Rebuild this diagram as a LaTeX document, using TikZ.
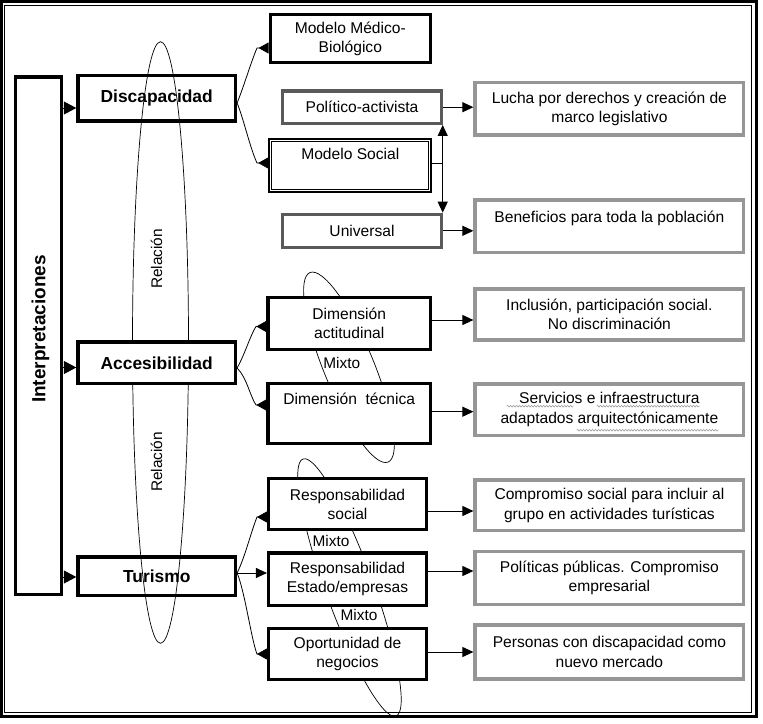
\documentclass[tikz,border=0pt]{standalone}
\usepackage{fontspec}
\setmainfont{Liberation Sans}
\usepackage{graphicx}
\usetikzlibrary{arrows.meta,calc,decorations.pathmorphing}
\definecolor{boxdark}{RGB}{90,90,90}
\definecolor{boxlight}{RGB}{150,150,150}
\definecolor{squigcol}{RGB}{160,160,160}
\begin{document}
\begin{tikzpicture}[x=1pt,y=-1pt,
  every node/.style={inner sep=0pt, align=center, font=\fontsize{15.6}{19.5}\selectfont},
  thickbox/.style={draw, line width=3.5pt, fill=white, rectangle},
  darkbox/.style={draw=boxdark, line width=3.2pt, fill=white, rectangle},
  lightbox/.style={draw=boxlight, line width=3.2pt, fill=white, rectangle},
  boldtxt/.style={font=\fontsize{17.4}{20}\selectfont\bfseries},
  lbl/.style={font=\fontsize{15.4}{18}\selectfont},
  arr/.style={line width=1pt, -{Triangle[length=11pt,width=10pt]}},
  headarr/.style={line width=1pt, -{Triangle[length=12.5pt,width=13pt]}},
  curv/.style={line width=0.8pt, -{Triangle[reversed,length=10pt,width=11pt]}},
  loopline/.style={line width=0.7pt},
  squigline/.style={draw=squigcol, line width=0.6pt, decorate, decoration={snake, amplitude=0.9pt, segment length=3pt}}]
\useasboundingbox (0,0) rectangle (763,723);

% loops
\draw[loopline] (160.5,342.5) ellipse [x radius=28pt, y radius=300.8pt];
\draw[loopline, rotate around={22.4:(349,367.3)}] (349,367.3) ellipse [x radius=25pt, y radius=102.5pt];
\draw[loopline, rotate around={19.9:(349.5,587.5)}] (349.5,587.5) ellipse [x radius=24pt, y radius=136.7pt];

% left column
\node[thickbox, minimum width=46.4pt, minimum height=517.7pt] (interp) at (38.5,335.8) {};
\node[font=\fontsize{19}{22}\selectfont\bfseries, rotate=90] (interplbl) at (40.5,329) {Interpretaciones};
\node[thickbox, fill=none, boldtxt, minimum width=157.3pt, minimum height=45.7pt] (disc) at (156.7,98.2) {Discapacidad};
\node[thickbox, boldtxt, minimum width=157.3pt, minimum height=41.7pt] (acc) at (156.7,362.8) {Accesibilidad};
\node[thickbox, fill=none, boldtxt, minimum width=157.3pt, minimum height=38.3pt] (tur) at (156.7,576.2) {Turismo};
\node[lbl, rotate=90] (rel1) at (156.5,259) {Relación};
\node[lbl, rotate=90] (rel2) at (156.5,462) {Relación};

% Discapacidad group
\node[thickbox, minimum width=160pt, minimum height=48pt] (mmb) at (350.3,38.7) {Modelo Médico-\\Biológico};
\node[darkbox, minimum width=159.4pt, minimum height=32.3pt] (pol) at (362,107.2) {Político-activista};
\node[draw, line width=2.2pt, fill=white, minimum width=162pt, minimum height=53.6pt] (soc) at (350.3,165.5) {Modelo Social\\[3pt]\mbox{}};
\draw[line width=0.9pt] ($(soc.center)+(-78.6,-24.4)$) rectangle ($(soc.center)+(78.6,24.4)$);
\node[darkbox, minimum width=159.4pt, minimum height=33pt] (univ) at (362,230.8) {Universal};
\node[lightbox, minimum width=268.8pt, minimum height=52.7pt] (lucha) at (609.4,108.7) {Lucha por derechos y creación de\\marco legislativo};
\node[lightbox, minimum width=268.8pt, minimum height=52.3pt] (benef) at (609.4,226.2) {Beneficios para toda la población\\\mbox{}};

% Accesibilidad group
\node[thickbox, minimum width=162.3pt, minimum height=51.6pt] (dact) at (349.2,323.5) {Dimensión\\actitudinal};
\node[thickbox, minimum width=162.3pt, minimum height=60pt] (dtec) at (349.2,413.7) {Dimensión\ \ técnica\\[11pt]\mbox{}};
\node[lightbox, minimum width=268.8pt, minimum height=51pt] (incl) at (609.4,314.5) {Inclusión, participación social.\\No discriminación};
\node[lightbox, minimum width=268.8pt, minimum height=51.3pt] (serv) at (609.4,409.7) {Servicios e infraestructura\\adaptados arquitectónicamente};
\draw[squigline] ($(serv.center)+(-102.7,-3.5)$) -- ++(66.6,0);
\draw[squigline] ($(serv.center)+(-12.7,-3.5)$) -- ++(102.6,0);
\draw[squigline] ($(serv.center)+(-32.7,20.5)$) -- ++(141.6,0);

% Turismo group
\node[thickbox, minimum width=157.6pt, minimum height=51pt] (rsoc) at (347.5,504.2) {Responsabilidad\\social};
\node[thickbox, minimum width=157.6pt, minimum height=52.3pt] (rest) at (347.5,579.2) {Responsabilidad\\Estado/empresas};
\node[thickbox, minimum width=157.6pt, minimum height=51pt] (opor) at (347.5,654.2) {Oportunidad de\\negocios};
\node[lightbox, minimum width=268.8pt, minimum height=50.7pt] (comp) at (609.4,505.3) {Compromiso social para incluir al\\grupo en actividades turísticas};
\node[lightbox, minimum width=268.8pt, minimum height=52.6pt] (polit) at (609.4,578) {Políticas públicas. Compromiso\\empresarial};
\node[lightbox, minimum width=268.8pt, minimum height=54pt] (pers) at (609.4,652) {Personas con discapacidad como\\nuevo mercado};

% Mixto labels
\node[lbl] (mx1) at (341.7,363) {Mixto};
\node[lbl] (mx2) at (331,540.5) {Mixto};
\node[lbl] (mx3) at (359,615) {Mixto};

% arrows from Interpretaciones
\coordinate (ya) at (0,108);
\coordinate (yb) at (0,367.5);
\coordinate (yc) at (0,577);
\draw[headarr] (interp.east |- ya) -- (disc.west |- ya);
\draw[headarr] (interp.east |- yb) -- (acc.west |- yb);
\draw[headarr] (interp.east |- yc) -- (tur.west |- yc);

% curved arrows
\coordinate (s1) at (0,103);
\coordinate (t1) at (257,48);
\coordinate (t2) at (257,163);
\draw[curv] (disc.east |- s1) .. controls (244,86) and (251,62) .. (t1) -- (mmb.west |- t1);
\draw[curv] (disc.east |- s1) .. controls (244,120) and (250,148) .. (t2) -- (soc.west |- t2);
\coordinate (s2) at (0,368);
\coordinate (t3) at (256,326.5);
\coordinate (t4) at (256,405);
\draw[curv] (acc.east |- s2) .. controls (245,354) and (250,336) .. (t3) -- (dact.west |- t3);
\draw[curv] (acc.east |- s2) .. controls (247,378) and (250,396) .. (t4) -- (dtec.west |- t4);
\coordinate (s3) at (0,573);
\coordinate (t5) at (257,517);
\coordinate (t6) at (257,654);
\draw[curv] (tur.east |- s3) .. controls (245,557) and (251,532) .. (t5) -- (rsoc.west |- t5);
\draw[arr] (tur.east |- s3) -- (rest.west |- s3);
\draw[curv] (tur.east |- s3) .. controls (245,592) and (251,638) .. (t6) -- (opor.west |- t6);

% Modelo Social connector
\coordinate (jn) at (442.7,163.3);
\draw[line width=1pt] (soc.east |- jn) -- (jn);
\draw[arr] (jn) -- (jn |- pol.south);
\draw[arr] (jn) -- (jn |- univ.north);

% straight arrows to the right column
\draw[arr] (pol.east) -- (pol.east -| lucha.west);
\draw[arr] (univ.east) -- (univ.east -| benef.west);
\coordinate (yd) at (0,320);
\coordinate (ye) at (0,411.7);
\coordinate (yf) at (0,511);
\coordinate (yg) at (0,571);
\coordinate (yh) at (0,652);
\draw[arr] (dact.east |- yd) -- (incl.west |- yd);
\draw[arr] (dtec.east |- ye) -- (serv.west |- ye);
\draw[arr] (rsoc.east |- yf) -- (comp.west |- yf);
\draw[arr] (rest.east |- yg) -- (polit.west |- yg);
\draw[arr] (opor.east |- yh) -- (pers.west |- yh);

% frame
\draw[line width=2.7pt] (1.3,1.7) rectangle (756.7,716.5);
\draw[line width=1.2pt] (4.6,5.3) rectangle (751.7,712.5);
\end{tikzpicture}
\end{document}
